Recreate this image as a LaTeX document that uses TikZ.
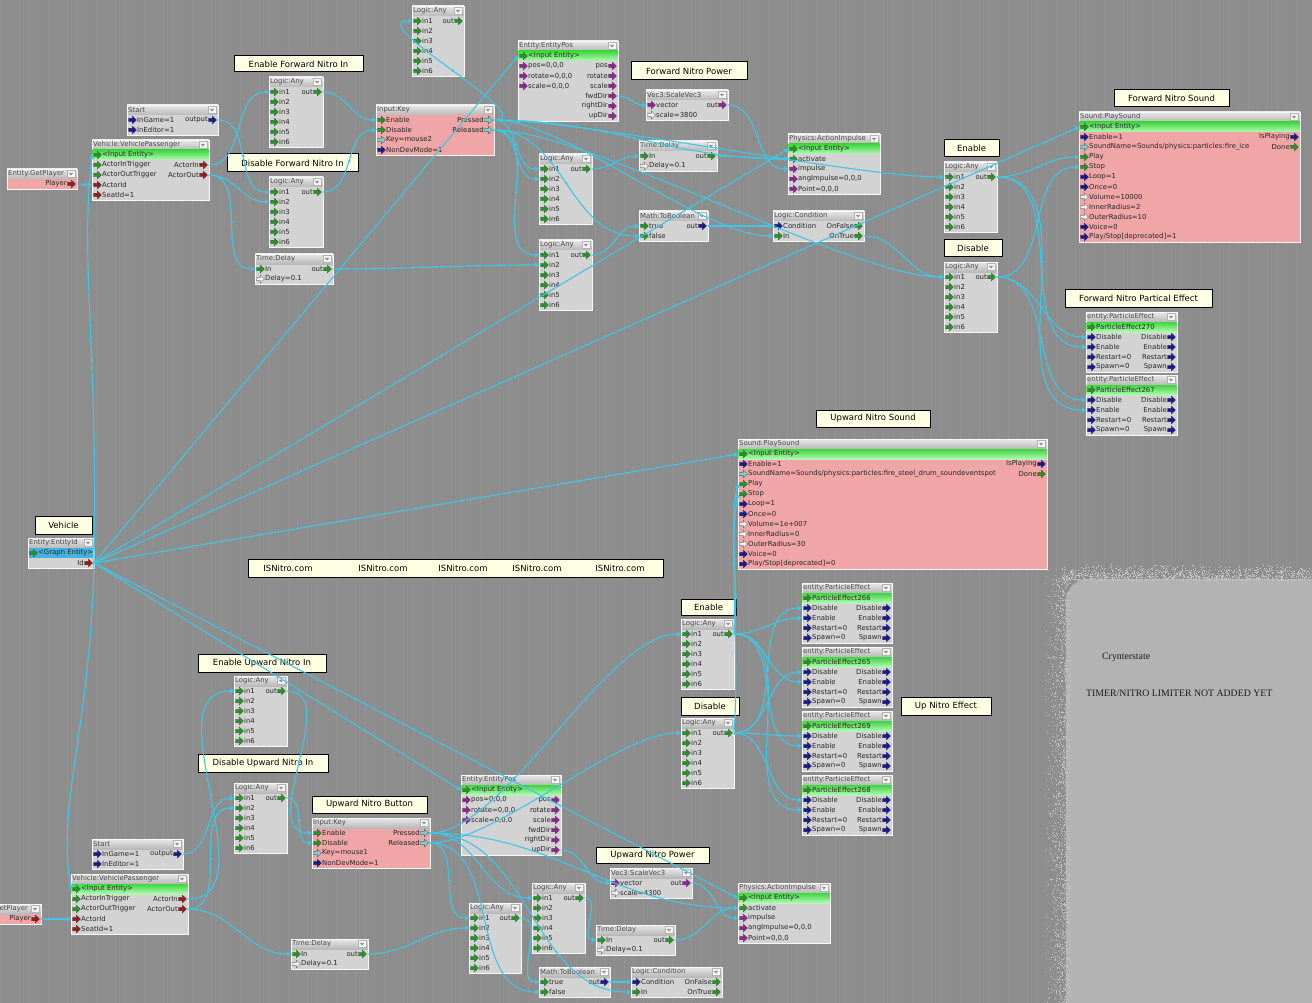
\documentclass[tikz,border=0pt]{standalone}
\usepackage{fontspec}
\setmainfont{DejaVu Sans}
\newfontfamily\notefont{Liberation Serif}
\usetikzlibrary{arrows.meta,calc,decorations.markings}

\definecolor{bgc}{HTML}{8D8D8D}
\definecolor{gridc}{HTML}{929292}
\definecolor{wirec}{HTML}{3EC6E6}
\definecolor{tbtop}{HTML}{E8E8E8}
\definecolor{tbbot}{HTML}{B8B8B8}
\definecolor{bodyc}{HTML}{D3D3D3}
\definecolor{pinkc}{HTML}{F0A6A6}
\definecolor{hitop}{HTML}{3CD83C}
\definecolor{hibot}{HTML}{B8F6B8}
\definecolor{graphent}{HTML}{44B2DE}
\definecolor{cream}{HTML}{FFFFE4}
\definecolor{portgreen}{HTML}{2F8F2F}
\definecolor{portnavy}{HTML}{1C1C7C}
\definecolor{portpurple}{HTML}{8A2A8A}
\definecolor{portred}{HTML}{8A2222}
\definecolor{portteal}{HTML}{3A9A9A}
\definecolor{patchc}{HTML}{B3B3B3}
\definecolor{specka}{HTML}{C4C4C4}
\definecolor{speckb}{HTML}{A6A6A6}

\tikzset{
  fgtext/.style={font=\fontsize{6.9}{7.5}\selectfont, inner sep=0pt, text=black!85},
  fgtitle/.style={fgtext, anchor=west, text=black!72},
  lblbox/.style={draw=black, line width=1pt, fill=cream, font=\fontsize{8.5}{10}\selectfont, inner sep=0pt, text=black},
  isntext/.style={font=\fontsize{8.5}{10}\selectfont, inner sep=0pt, text=black},
  notetext/.style={font=\notefont\fontsize{9.8}{11}\selectfont, anchor=west, inner sep=0pt, text=black!90},
  pg/.style={fill=portgreen, draw=portgreen!70!black, line width=0.3pt},
  pn/.style={fill=portnavy, draw=portnavy, line width=0.3pt},
  pp/.style={fill=portpurple, draw=portpurple!70!black, line width=0.3pt},
  pr/.style={fill=portred, draw=portred!70!black, line width=0.3pt},
  pt/.style={fill=portteal!55!white, draw=portteal!80!black, line width=0.4pt},
  ph/.style={fill=white!90!gray, draw=black!55, line width=0.4pt},
  greenrow/.style={top color=hitop, bottom color=hibot},
  bluerow/.style={fill=graphent},
  wire/.style={draw=wirec, line width=1.1pt, -{Triangle[length=4pt,width=5pt]},
    postaction={decorate},
    decoration={markings, mark=at position 0.5 with {\fill[wirec] (0,0) circle (1.3pt);}}},
}

% port icon: a small block arrow, #1 style, #2 horizontal offset
\newcommand\fgport[2]{\filldraw[#1, shift={(#2,0)}] (0,-1.6) -- (3.8,-1.6) -- (3.8,-3.9) -- (8,0) -- (3.8,3.9) -- (3.8,1.6) -- (0,1.6) -- cycle;}

% flow node frame: name, x, y, width, rows, title, body colour
\newcommand\fgnode[7]{%
  \fill[#7] (#2,#3) rectangle ++(#4,{10+10*#5});
  \fill[top color=tbtop, bottom color=tbbot] (#2,#3) rectangle ++(#4,10);
  \node[fgtitle] (#1) at ({#2+1},{#3+5}) {#6};
  \filldraw[fill=white!92!gray, draw=gray!60, line width=0.4pt] ({#2+#4-10},{#3+1.5}) rectangle ++(8,7);
  \fill[gray!85] ({#2+#4-8.3},{#3+3.8}) -- ++(4.6,0) -- ++(-2.3,2.8) -- cycle;
  \draw[white!95!gray, line width=0.9pt] (#2,#3) rectangle ++(#4,{10+10*#5});
  \foreach \k in {1,...,#5}{
    \coordinate (#1-l\k) at (#2,{#3+5+10*\k});
    \coordinate (#1-r\k) at ({#2+#4},{#3+5+10*\k});
  }%
}
% input port row: node, row, text, icon
\newcommand\fgin[4]{%
  \begin{scope}[shift={(#1-l#2)}]
    \fgport{#4}{1.5}
    \node[fgtext, anchor=west] (#1-i#2) at (10,0) {#3};
  \end{scope}}
% output port row: node, row, text, icon
\newcommand\fgout[4]{%
  \begin{scope}[shift={(#1-r#2)}]
    \fgport{#4}{-9.5}
    \node[fgtext, anchor=east] (#1-o#2) at (-10,0) {#3};
  \end{scope}}
% highlighted row
\newcommand\fghi[3]{\fill[#3] ($(#1-l#2)+(0.6,-5)$) rectangle ($(#1-r#2)+(-0.6,5)$);}
% comment label: name, x1, y1, x2, y2, text
\newcommand\fglabel[6]{\node[lblbox, minimum width={#4-#2}, minimum height={#5-#3}] (#1) at ({(#2+#4)/2},{(#3+#5)/2}) {#6};}

\newcommand\fgany[4]{%
  \fgnode{#1}{#2}{#3}{#4}{6}{Logic:Any}{bodyc}
  \foreach \k in {1,...,6}{\fgin{#1}{\k}{in\k}{pg}}
  \fgout{#1}{1}{out}{pg}}
\newcommand\fgdelay[4]{%
  \fgnode{#1}{#2}{#3}{#4}{2}{Time:Delay}{bodyc}
  \fgin{#1}{1}{In}{pg}\fgout{#1}{1}{out}{pg}
  \fgin{#1}{2}{Delay=0.1}{ph}}
\newcommand\fgstart[3]{%
  \fgnode{#1}{#2}{#3}{91}{2}{Start}{bodyc}
  \fgin{#1}{1}{InGame=1}{pn}\fgout{#1}{1}{output}{pn}
  \fgin{#1}{2}{InEditor=1}{pn}}
\newcommand\fgpass[3]{%
  \fgnode{#1}{#2}{#3}{117}{5}{Vehicle:VehiclePassenger}{bodyc}
  \fghi{#1}{1}{greenrow}
  \fgin{#1}{1}{<Input Entity>}{pg}
  \fgin{#1}{2}{ActorInTrigger}{pg}\fgout{#1}{2}{ActorIn}{pr}
  \fgin{#1}{3}{ActorOutTrigger}{pg}\fgout{#1}{3}{ActorOut}{pr}
  \fgin{#1}{4}{ActorId}{pr}
  \fgin{#1}{5}{SeatId=1}{pr}}
\newcommand\fgkey[4]{%
  \fgnode{#1}{#2}{#3}{118}{4}{Input:Key}{pinkc}
  \fgin{#1}{1}{Enable}{pg}\fgout{#1}{1}{Pressed}{pt}
  \fgin{#1}{2}{Disable}{pg}\fgout{#1}{2}{Released}{pt}
  \fgin{#1}{3}{Key=#4}{pt}
  \fgin{#1}{4}{NonDevMode=1}{pn}}
\newcommand\fgentpos[3]{%
  \fgnode{#1}{#2}{#3}{100}{7}{Entity:EntityPos}{bodyc}
  \fghi{#1}{1}{greenrow}
  \fgin{#1}{1}{<Input Entity>}{pg}
  \fgin{#1}{2}{pos=0,0,0}{pp}\fgout{#1}{2}{pos}{pp}
  \fgin{#1}{3}{rotate=0,0,0}{pp}\fgout{#1}{3}{rotate}{pp}
  \fgin{#1}{4}{scale=0,0,0}{pp}\fgout{#1}{4}{scale}{pp}
  \fgout{#1}{5}{fwdDir}{pp}
  \fgout{#1}{6}{rightDir}{pp}
  \fgout{#1}{7}{upDir}{pp}}
\newcommand\fgscale[4]{%
  \fgnode{#1}{#2}{#3}{82}{2}{Vec3:ScaleVec3}{bodyc}
  \fgin{#1}{1}{vector}{pp}\fgout{#1}{1}{out}{pp}
  \fgin{#1}{2}{scale=#4}{ph}}
\newcommand\fgimpulse[3]{%
  \fgnode{#1}{#2}{#3}{92}{5}{Physics:ActionImpulse}{bodyc}
  \fghi{#1}{1}{greenrow}
  \fgin{#1}{1}{<Input Entity>}{pg}
  \fgin{#1}{2}{activate}{pg}
  \fgin{#1}{3}{impulse}{pp}
  \fgin{#1}{4}{angImpulse=0,0,0}{pp}
  \fgin{#1}{5}{Point=0,0,0}{pp}}
\newcommand\fgbool[4]{%
  \fgnode{#1}{#2}{#3}{#4}{2}{Math:ToBoolean}{bodyc}
  \fgin{#1}{1}{true}{pg}\fgout{#1}{1}{out}{pn}
  \fgin{#1}{2}{false}{pg}}
\newcommand\fgcond[3]{%
  \fgnode{#1}{#2}{#3}{91}{2}{Logic:Condition}{bodyc}
  \fgin{#1}{1}{Condition}{pn}\fgout{#1}{1}{OnFalse}{pg}
  \fgin{#1}{2}{In}{pg}\fgout{#1}{2}{OnTrue}{pg}}
\newcommand\fgeffect[5]{%
  \fgnode{#1}{#2}{#3}{#4}{5}{entity:ParticleEffect}{bodyc}
  \fghi{#1}{1}{greenrow}
  \fgin{#1}{1}{ParticleEffect#5}{pg}
  \fgin{#1}{2}{Disable}{pn}\fgout{#1}{2}{Disable}{pn}
  \fgin{#1}{3}{Enable}{pn}\fgout{#1}{3}{Enable}{pn}
  \fgin{#1}{4}{Restart=0}{pn}\fgout{#1}{4}{Restart}{pn}
  \fgin{#1}{5}{Spawn=0}{pn}\fgout{#1}{5}{Spawn}{pn}}
\newcommand\fgsound[9]{%
  \fgnode{#1}{#2}{#3}{#4}{12}{Sound:PlaySound}{pinkc}
  \fghi{#1}{1}{greenrow}
  \fgin{#1}{1}{<Input Entity>}{pg}
  \fgin{#1}{2}{Enable=1}{pn}\fgout{#1}{2}{IsPlaying}{pn}
  \fgin{#1}{3}{SoundName=#5}{pt}\fgout{#1}{3}{Done}{pg}
  \fgin{#1}{4}{Play}{pg}
  \fgin{#1}{5}{Stop}{pg}
  \fgin{#1}{6}{Loop=1}{pn}
  \fgin{#1}{7}{Once=0}{pn}
  \fgin{#1}{8}{Volume=#6}{ph}
  \fgin{#1}{9}{InnerRadius=#7}{ph}
  \fgin{#1}{10}{OuterRadius=#8}{ph}
  \fgin{#1}{11}{Voice=0}{pn}
  \fgin{#1}{12}{Play/Stop[deprecated]=#9}{pn}}

\begin{document}
\begin{tikzpicture}[x=1pt,y=-1pt]
\useasboundingbox (0,0) rectangle (1312,1003);
\clip (0,0) rectangle (1312,1003);

% canvas
\fill[bgc] (0,0) rectangle (1312,1003);
\draw[gridc, line width=0.25pt] (0,0) grid[step=9.6] (1312,1003);

% note sheet on the right, with a grainy edge
\fill[patchc, rounded corners=22pt] (1066,579) rectangle (1340,1030);
\pgfmathsetseed{7}
\foreach \i in {1,...,1500}{
  \pgfmathsetmacro\sx{1046+24*sqrt(rnd)}
  \pgfmathsetmacro\sy{575+430*rnd}
  \fill[specka] (\sx,\sy) rectangle ++(1,1);
}
\foreach \i in {1,...,1300}{
  \pgfmathsetmacro\sx{1062+260*rnd}
  \pgfmathsetmacro\sy{564+16*sqrt(rnd)}
  \fill[specka] (\sx,\sy) rectangle ++(1,1);
}
\foreach \i in {1,...,500}{
  \pgfmathsetmacro\sx{1044+26*rnd}
  \pgfmathsetmacro\sy{568+435*rnd}
  \fill[speckb] (\sx,\sy) rectangle ++(1,1);
}
\node[notetext] (cry) at (1102,657) {Crynterstate};
\node[notetext] (tim) at (1086,693) {TIMER/NITRO LIMITER NOT ADDED YET};

% ---------- forward nitro ----------
\fgnode{GPa}{7}{169}{70}{1}{Entity:GetPlayer}{pinkc}
\fgout{GPa}{1}{Player}{pr}
\fgany{LAz}{412}{6}{52}
\fglabel{lEFN}{234}{56}{363}{72}{Enable Forward Nitro In}
\fgany{LAa}{269}{77}{54}
\fgstart{STa}{127}{105}
\fgpass{VPa}{92}{140}
\fglabel{lDFN}{227}{154}{358}{172}{Disable Forward Nitro In}
\fgany{LAb}{269}{177}{54}
\fgdelay{TDa}{255}{254}{78}
\fgkey{IKa}{376}{105}{mouse2}
\fgentpos{EPa}{518}{41}
\fglabel{lFNP}{631}{62}{747}{80}{Forward Nitro Power}
\fgscale{SVa}{646}{90}{3800}
\fgdelay{TDb}{639}{141}{78}
\fgimpulse{AIa}{788}{134}
\fgany{LAc}{539}{154}{53}
\fgany{LAd}{539}{240}{53}
\fgbool{TBa}{639}{211}{69}
\fgcond{LCa}{773}{211}
\fglabel{lFNS}{1114}{90}{1229}{107}{Forward Nitro Sound}
\fgsound{PSa}{1079}{112}{221}{Sounds/physics:particles:fire\_ice}{10000}{2}{10}{1}
\fglabel{lEna}{944}{140}{999}{157}{Enable}
\fgany{LAe}{944}{162}{53}
\fglabel{lDia}{944}{240}{1002}{257}{Disable}
\fgany{LAf}{944}{262}{53}
\fglabel{lFNE}{1065}{289}{1212}{307}{Forward Nitro Partical Effect}
\fgeffect{PEa}{1086}{312}{91}{270}
\fgeffect{PEb}{1086}{375}{91}{267}

% ---------- shared ----------
\fglabel{lUNS}{816}{410}{930}{427}{Upward Nitro Sound}
\fgsound{PSb}{738}{439}{309}{Sounds/physics:particles:fire\_steel\_drum\_soundeventspot}{1e+007}{0}{30}{0}
\fglabel{lVeh}{35}{516}{92}{534}{Vehicle}
\fgnode{EID}{28}{538}{66}{2}{Entity:EntityId}{bodyc}
\fghi{EID}{1}{bluerow}
\fgin{EID}{1}{<Graph Entity>}{pg}
\fgout{EID}{2}{Id}{pr}
\node[lblbox, minimum width=415pt, minimum height=18pt] (isn) at (455.5,568) {};
\node[isntext] (isna) at (288,568) {ISNitro.com};
\node[isntext] (isnb) at (383,568) {ISNitro.com};
\node[isntext] (isnc) at (463,568) {ISNitro.com};
\node[isntext] (isnd) at (537,568) {ISNitro.com};
\node[isntext] (isne) at (620,568) {ISNitro.com};

% ---------- upward nitro ----------
\fglabel{lEUN}{198}{654}{326}{672}{Enable Upward Nitro In}
\fgany{LAg}{234}{676}{53}
\fglabel{lDUN}{198}{754}{328}{772}{Disable Upward Nitro In}
\fgany{LAh}{234}{783}{53}
\fglabel{lEnb}{681}{599}{736}{615}{Enable}
\fgany{LAi}{681}{619}{53}
\fglabel{lDib}{681}{697}{739}{715}{Disable}
\fgany{LAj}{681}{718}{53}
\fgeffect{PEc}{802}{583}{90}{266}
\fgeffect{PEd}{802}{647}{90}{265}
\fgeffect{PEe}{802}{711}{90}{269}
\fgeffect{PEf}{802}{775}{90}{268}
\fglabel{lUNE}{901}{697}{991}{715}{Up Nitro Effect}
\fglabel{lUNB}{312}{796}{427}{813}{Upward Nitro Button}
\fgkey{IKb}{312}{818}{mouse1}
\fgstart{STb}{92}{839}
\fgpass{VPb}{71}{874}
\fgnode{GPb}{-29}{904}{70}{1}{Entity:GetPlayer}{pinkc}
\fgout{GPb}{1}{Player}{pr}
\fgdelay{TDc}{291}{939}{77}
\fgentpos{EPb}{461}{775}
\fglabel{lUNP}{596}{847}{709}{863}{Upward Nitro Power}
\fgscale{SVb}{610}{868}{4300}
\fgimpulse{AIb}{738}{883}
\fgany{LAk}{469}{903}{52}
\fgany{LAl}{532}{883}{53}
\fgdelay{TDd}{596}{925}{79}
\fgbool{TBb}{539}{967}{71}
\fgcond{LCb}{631}{967}

% ---------- links from the vehicle entity ----------
\draw[wire] (EID-r2) .. controls +(4,-220) and +(-12,110) .. (VPa-l1);
\draw[wire] (EID-r2) .. controls +(-4,170) and +(-14,-90) .. (VPb-l1);
\draw[wire] (EID-r2) -- (EPa-l1);
\draw[wire] (EID-r2) -- (AIa-l1);
\draw[wire] (EID-r2) -- (PSa-l1);
\draw[wire] (EID-r2) -- (PSb-l1);
\draw[wire] (EID-r2) -- (EPb-l1);
\draw[wire] (EID-r2) -- (AIb-l1);

% ---------- forward nitro links ----------
\draw[wire] (GPa-r1) to[out=0,in=180] (VPa-l4);
\draw[wire] (STa-r1) to[out=0,in=180] (LAb-l1);
\draw[wire] (VPa-r2) to[out=0,in=180] (LAa-l1);
\draw[wire] (VPa-r3) to[out=0,in=180] (LAb-l2);
\draw[wire] (VPa-r3) to[out=0,in=180] (TDa-l1);
\draw[wire] (LAa-r1) to[out=0,in=180] (IKa-l1);
\draw[wire] (LAb-r1) to[out=0,in=180] (IKa-l2);
\draw[wire] (TDa-r1) to[out=0,in=180] (LAd-l2);
\draw[wire] (IKa-r1) to[out=0,in=180] (LAz-l1);
\draw[wire] (IKa-r1) to[out=0,in=180] (LAc-l1);
\draw[wire] (IKa-r1) to[out=0,in=180] (AIa-l2);
\draw[wire] (IKa-r1) to[out=0,in=180,looseness=0.5] (LAe-l1);
\draw[wire] (IKa-r1) to[out=0,in=180,looseness=0.6] (LCa-l2);
\draw[wire] (IKa-r2) to[out=0,in=180] (LAc-l2);
\draw[wire] (IKa-r2) to[out=0,in=180] (LAd-l1);
\draw[wire] (IKa-r2) to[out=0,in=180] (TBa-l2);
\draw[wire] (IKa-r2) to[out=0,in=180,looseness=0.5] (LAf-l1);
\draw[wire] (LAc-r1) to[out=0,in=180] (TDb-l1);
\draw[wire] (TDb-r1) to[out=0,in=180] (AIa-l2);
\draw[wire] (LAd-r1) to[out=0,in=180] (TBa-l1);
\draw[wire] (TBa-r1) to[out=0,in=180] (LCa-l1);
\draw[wire] (LCa-r2) to[out=0,in=180] (LAf-l1);
\draw[wire] (EPa-r5) to[out=0,in=180] (SVa-l1);
\draw[wire] (SVa-r1) to[out=0,in=180] (AIa-l3);
\draw[wire] (LAe-r1) to[out=0,in=180] (PSa-l4);
\draw[wire] (LAf-r1) to[out=0,in=180] (PSa-l5);
\foreach \e in {PEa,PEb}{
  \draw[wire] (LAe-r1) to[out=0,in=180] (\e-l3);
  \draw[wire] (LAf-r1) to[out=0,in=180] (\e-l2);
}

% ---------- upward nitro links ----------
\draw[wire] (GPb-r1) to[out=0,in=180] (VPb-l4);
\draw[wire] (STb-r1) to[out=0,in=180] (LAh-l1);
\draw[wire] (VPb-r2) to[out=0,in=180] (LAg-l1);
\draw[wire] (VPb-r3) to[out=0,in=180] (LAh-l2);
\draw[wire] (VPb-r3) to[out=0,in=180] (TDc-l1);
\draw[wire] (LAg-r1) to[out=0,in=180] (IKb-l1);
\draw[wire] (LAh-r1) to[out=0,in=180] (IKb-l2);
\draw[wire] (TDc-r1) to[out=0,in=180] (LAk-l2);
\draw[wire] (IKb-r1) to[out=0,in=180,looseness=0.6] (LAi-l1);
\draw[wire] (IKb-r2) to[out=0,in=180,looseness=0.6] (LAj-l1);
\draw[wire] (IKb-r1) to[out=0,in=180] (LAl-l1);
\draw[wire] (IKb-r2) to[out=0,in=180] (LAk-l1);
\draw[wire] (IKb-r1) to[out=0,in=180] (AIb-l2);
\draw[wire] (IKb-r2) to[out=0,in=180] (TBb-l2);
\draw[wire] (IKb-r1) to[out=0,in=180] (LCb-l2);
\draw[wire] (LAl-r1) to[out=0,in=180] (TDd-l1);
\draw[wire] (TDd-r1) to[out=0,in=180] (AIb-l2);
\draw[wire] (LAk-r1) to[out=0,in=180] (TBb-l1);
\draw[wire] (TBb-r1) to[out=0,in=180] (LCb-l1);
\draw[wire] (EPb-r7) to[out=0,in=180] (SVb-l1);
\draw[wire] (SVb-r1) to[out=0,in=180] (AIb-l3);
\draw[wire] (LAi-r1) .. controls +(6,-50) and +(-10,40) .. (PSb-l4);
\draw[wire] (LAj-r1) .. controls +(6,-80) and +(-10,60) .. (PSb-l5);
\foreach \e in {PEc,PEd,PEe,PEf}{
  \draw[wire] (LAi-r1) to[out=0,in=180] (\e-l3);
  \draw[wire] (LAj-r1) to[out=0,in=180] (\e-l2);
}
\end{tikzpicture}
\end{document}
